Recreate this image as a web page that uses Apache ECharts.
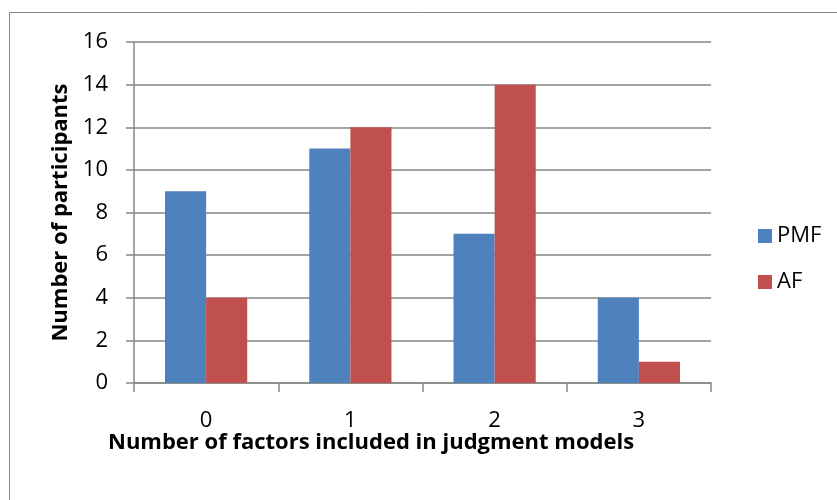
<!DOCTYPE html>
<html><head><meta charset="utf-8">
<script src="https://cdn.jsdelivr.net/npm/echarts@6/dist/echarts.min.js"></script>
<style>html,body{margin:0;padding:0;background:#fff}#c{width:837px;height:500px}</style>
</head><body><div id="c"></div>
<script>
const categories = ['0', '1', '2', '3'];
const pmfValues = [9, 11, 7, 4];
const afValues = [4, 12, 14, 1];
const yTicks = { min: 0, max: 16, interval: 2 };
const FONT = '"Open Sans", "Liberation Sans", Arial, sans-serif';
const chart = echarts.init(document.getElementById('c'), null, { renderer: 'canvas' });
chart.setOption({
  animation: false,
  backgroundColor: '#fff',
  graphic: [
    { type: 'rect', shape: { x: 9.5, y: 12.5, width: 900, height: 600 }, style: { fill: 'none', stroke: '#868686', lineWidth: 1 }, z: -1 },
    { type: 'text', left: 108, top: 432, style: { text: 'Number of factors included in judgment models', font: 'bold 22px ' + FONT, fill: '#000' } }
  ],
  legend: {
    orient: 'vertical', left: 753, top: 220, itemWidth: 14, itemHeight: 14, itemGap: 24,
    icon: 'rect',
    textStyle: { fontFamily: FONT, fontSize: 22, color: '#000' },
    data: ['PMF', 'AF']
  },
  grid: { left: 134, right: 126, top: 42, bottom: 117, containLabel: false },
  xAxis: {
    type: 'category', data: categories,
    axisLine: { lineStyle: { color: '#868686', width: 1.5 } },
    axisTick: { show: true, length: 9, lineStyle: { color: '#868686', width: 1.5 }, alignWithLabel: false },
    axisLabel: { fontFamily: FONT, fontSize: 22, color: '#000', margin: 27 },
    splitLine: { show: false }
  },
  yAxis: {
    type: 'value', min: yTicks.min, max: yTicks.max, interval: yTicks.interval,
    name: 'Number of participants', nameLocation: 'middle', nameGap: 60,
    nameTextStyle: { fontFamily: FONT, fontSize: 22, fontWeight: 'bold', color: '#000' },
    axisLine: { show: true, lineStyle: { color: '#868686', width: 1.5 } },
    axisTick: { show: true, length: 8, lineStyle: { color: '#868686', width: 1.5 } },
    axisLabel: { fontFamily: FONT, fontSize: 22, color: '#000', margin: 26 },
    splitLine: { lineStyle: { color: '#868686', width: 1.5 } }
  },
  series: [
    { name: 'PMF', type: 'bar', data: pmfValues, barGap: '0%', barCategoryGap: '43%', itemStyle: { color: '#4F81BD' } },
    { name: 'AF', type: 'bar', data: afValues, barGap: '0%', barCategoryGap: '43%', itemStyle: { color: '#C0504D' } }
  ]
});
</script></body></html>
